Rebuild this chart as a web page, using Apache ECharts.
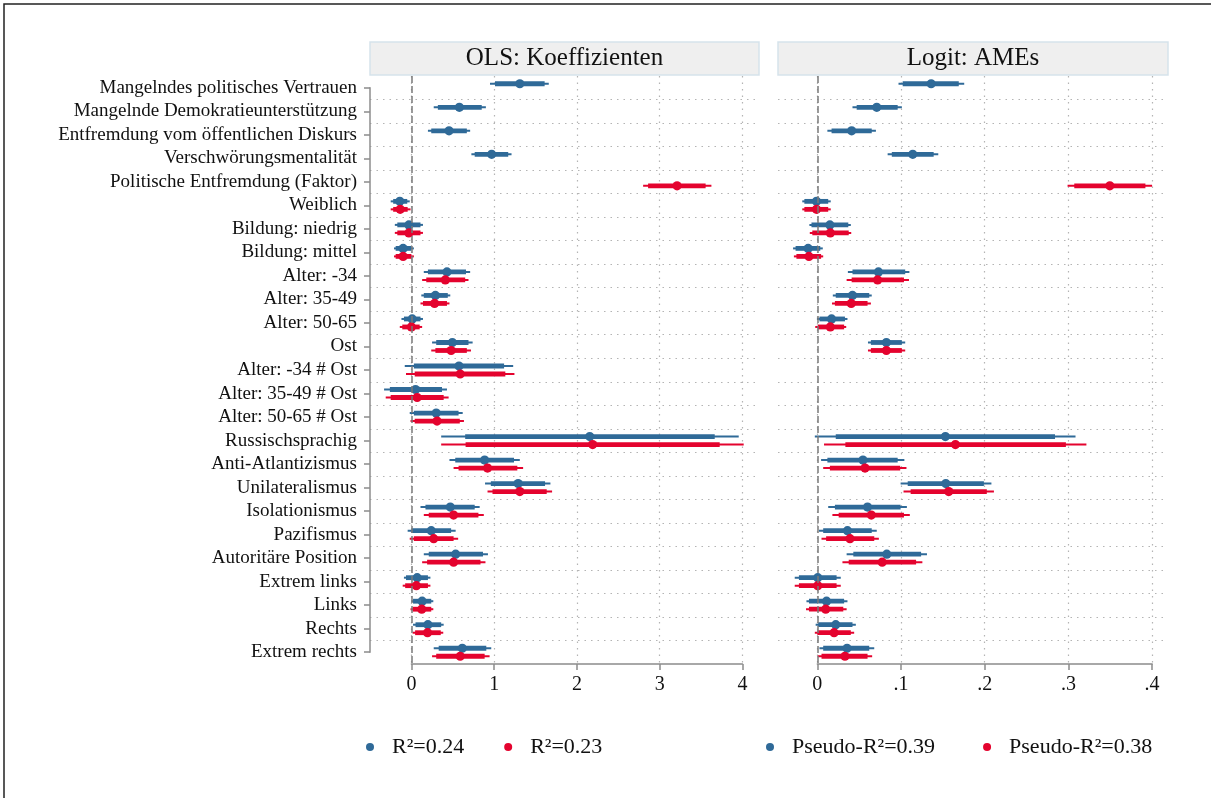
<!DOCTYPE html>
<html>
<head>
<meta charset="utf-8">
<script src="https://cdn.jsdelivr.net/npm/echarts@6/dist/echarts.min.js"></script>
<style>
html,body{margin:0;padding:0;background:#fff;}
#chart{width:1211px;height:798px;}
</style>
</head>
<body>
<div id="chart"></div>
<script>
const categories = ['Mangelndes politisches Vertrauen','Mangelnde Demokratieunterstützung','Entfremdung vom öffentlichen Diskurs','Verschwörungsmentalität','Politische Entfremdung (Faktor)','Weiblich','Bildung: niedrig','Bildung: mittel','Alter: -34','Alter: 35-49','Alter: 50-65','Ost','Alter: -34 # Ost','Alter: 35-49 # Ost','Alter: 50-65 # Ost','Russischsprachig','Anti-Atlantizismus','Unilateralismus','Isolationismus','Pazifismus','Autoritäre Position','Extrem links','Links','Rechts','Extrem rechts'];

const panelTitles = ['OLS: Koeffizienten', 'Logit: AMEs'];
const seriesNames = ['R²=0.24', 'R²=0.23', 'Pseudo-R²=0.39', 'Pseudo-R²=0.38'];
const olsTicks = [0, 1, 2, 3, 4];
const logitTickLabels = ['0', '.1', '.2', '.3', '.4'];

// each row: [lo95, lo90, estimate, hi90, hi95]
const olsModel1 = [
  [0.95,1.01,1.31,1.61,1.66],[0.27,0.32,0.58,0.85,0.90],[0.20,0.24,0.455,0.67,0.71],[0.725,0.765,0.97,1.17,1.21],null,
  [-0.25,-0.22,-0.14,-0.05,-0.02],[-0.20,-0.17,-0.03,0.11,0.14],[-0.21,-0.19,-0.10,0.00,0.03],
  [0.15,0.20,0.43,0.66,0.71],[0.12,0.15,0.29,0.44,0.47],[-0.12,-0.09,0.01,0.11,0.14],[0.25,0.30,0.495,0.69,0.74],
  [-0.08,0.03,0.575,1.12,1.23],[-0.33,-0.26,0.05,0.37,0.43],[-0.02,0.03,0.30,0.57,0.62],
  [0.36,0.65,2.155,3.665,3.955],[0.46,0.53,0.885,1.24,1.31],[0.89,0.96,1.29,1.615,1.68],[0.11,0.17,0.47,0.765,0.825],
  [-0.045,0.00,0.24,0.48,0.535],[0.15,0.21,0.535,0.865,0.925],[-0.09,-0.065,0.07,0.20,0.23],[0.00,0.02,0.13,0.24,0.265],
  [0.02,0.05,0.20,0.36,0.39],[0.27,0.33,0.615,0.905,0.965]
];
const olsModel2 = [
  null,null,null,null,[2.80,2.86,3.21,3.555,3.625],
  [-0.25,-0.22,-0.135,-0.045,-0.01],[-0.20,-0.17,-0.03,0.11,0.14],[-0.21,-0.19,-0.10,0.00,0.03],
  [0.13,0.18,0.41,0.65,0.69],[0.11,0.14,0.28,0.43,0.46],[-0.14,-0.11,0.00,0.10,0.13],[0.24,0.29,0.48,0.67,0.72],
  [-0.065,0.04,0.59,1.135,1.245],[-0.31,-0.25,0.07,0.39,0.45],[-0.01,0.04,0.31,0.585,0.635],
  [0.36,0.655,2.19,3.725,4.015],[0.51,0.57,0.92,1.28,1.35],[0.92,0.98,1.31,1.635,1.70],[0.15,0.21,0.51,0.81,0.875],
  [-0.02,0.03,0.27,0.51,0.565],[0.13,0.19,0.51,0.835,0.895],[-0.105,-0.075,0.06,0.20,0.23],[-0.01,0.015,0.125,0.24,0.265],
  [0.015,0.045,0.195,0.355,0.385],[0.25,0.30,0.59,0.885,0.945]
];
const logitModel1 = [
  [0.097,0.102,0.136,0.169,0.1755],[0.042,0.047,0.071,0.096,0.101],[0.012,0.017,0.041,0.065,0.070],[0.084,0.089,0.114,0.139,0.1445],null,
  [-0.018,-0.0155,-0.001,0.013,0.016],[-0.0095,-0.007,0.015,0.037,0.040],[-0.029,-0.026,-0.011,0.0035,0.0065],
  [0.0365,0.042,0.073,0.105,0.110],[0.0185,0.022,0.042,0.062,0.065],[-0.0005,0.0025,0.017,0.033,0.036],[0.0605,0.064,0.0825,0.101,0.105],
  null,null,null,
  [-0.003,0.022,0.153,0.284,0.3085],[0.0045,0.012,0.0545,0.096,0.104],[0.0995,0.108,0.1535,0.199,0.208],[0.013,0.021,0.060,0.0995,0.107],
  [0.002,0.007,0.036,0.065,0.071],[0.035,0.043,0.083,0.124,0.131],[-0.027,-0.022,0.0005,0.023,0.028],[-0.013,-0.010,0.011,0.032,0.036],
  [-0.002,0.001,0.022,0.042,0.046],[0.0025,0.007,0.0355,0.062,0.068]
];
const logitModel2 = [
  null,null,null,null,[0.299,0.307,0.3495,0.392,0.400],
  [-0.018,-0.0155,-0.001,0.013,0.016],[-0.009,-0.006,0.0155,0.0375,0.0405],[-0.028,-0.025,-0.010,0.0045,0.007],
  [0.035,0.041,0.072,0.1035,0.1095],[0.0175,0.021,0.0405,0.060,0.064],[-0.0025,0.0005,0.0155,0.032,0.0345],[0.0605,0.064,0.0825,0.101,0.105],
  null,null,null,
  [0.008,0.0335,0.165,0.297,0.3215],[0.007,0.015,0.057,0.099,0.1065],[0.103,0.1115,0.157,0.2025,0.211],[0.018,0.0255,0.0645,0.1035,0.1105],
  [0.005,0.0105,0.039,0.068,0.0735],[0.030,0.0375,0.0775,0.118,0.1255],[-0.027,-0.022,0.0005,0.023,0.028],[-0.0135,-0.010,0.010,0.031,0.035],
  [-0.003,0.000,0.020,0.040,0.044],[0.0005,0.005,0.033,0.060,0.0655]
];

// ---------- layout / style ----------
const BLUE = '#2f6a98', RED = '#e4032e';
const FONT = '"Liberation Serif", "Times New Roman", serif';
const TOP = 76, H = 588, BAND = H / categories.length;
const P1 = {left: 370, width: 389, min: -0.5, max: 4.2, tmin: 0, tmax: 4};
const P2 = {left: 778, width: 390, min: -0.047, max: 0.419, tmin: 0, tmax: 0.4};
function px(p, v){ return p.left + (v - p.min) / (p.max - p.min) * p.width; }

function toData(rows){
  const out = [];
  rows.forEach((r, i) => { if (r) out.push([i, r[0], r[1], r[2], r[3], r[4]]); });
  return out;
}
function makeRender(off){
  return function(params, api){
    const cat = api.value(0);
    const y = api.coord([0, cat])[1] + off;
    const X = v => api.coord([v, cat])[0];
    const c = api.visual('color');
    return {type:'group', children:[
      {type:'line', shape:{x1:X(api.value(1)), y1:y, x2:X(api.value(5)), y2:y}, style:{stroke:c, lineWidth:2}},
      {type:'line', shape:{x1:X(api.value(2)), y1:y, x2:X(api.value(4)), y2:y}, style:{stroke:c, lineWidth:4.8}},
      {type:'circle', shape:{cx:X(api.value(3)), cy:y, r:4.6}, style:{fill:c}}
    ]};
  };
}
const zeroLine = {silent:true, symbol:'none', label:{show:false}, animation:false,
  lineStyle:{color:'#7a7a7a', type:[7,3], width:1.5}, data:[{xAxis:0}]};

const dotted = {show:true, interval:0, showMinLine:false, showMaxLine:false,
  lineStyle:{color:'#b4b4b4', type:[1.5,5], width:1.2}};

function mainY(gi){
  return {gridIndex:gi, type:'category', data:categories, inverse:true, boundaryGap:true,
    axisLine:{show:false}, axisTick:{show:false, interval:0}, axisLabel:{show:false, interval:0}, splitLine:dotted};
}
function tickX(gi, p, fmt){
  return {gridIndex:gi, type:'value', min:p.tmin, max:p.tmax, interval:(p.tmax-p.tmin)/4,
    axisLine:{show:true, lineStyle:{color:'#8c8c8c', width:1.5}},
    axisTick:{show:true, length:6, lineStyle:{color:'#8c8c8c', width:1.5}},
    axisLabel:{show:true, fontFamily:FONT, fontSize:20, color:'#111', margin:11, formatter:fmt},
    splitLine:{show:true, lineStyle:{color:'#b4b4b4', type:[1.5,5], width:1.2}}};
}

const grids = [
  {left:P1.left, top:TOP, width:P1.width, height:H},
  {left:px(P1,P1.tmin), top:TOP, width:px(P1,P1.tmax)-px(P1,P1.tmin), height:H},
  {left:P1.left, top:TOP + BAND/2, width:2, height:H - BAND},
  {left:P2.left, top:TOP, width:P2.width, height:H},
  {left:px(P2,P2.tmin), top:TOP, width:px(P2,P2.tmax)-px(P2,P2.tmin), height:H}
];

const option = {
  animation:false,
  backgroundColor:'#fff',
  grid: grids,
  xAxis: [
    {gridIndex:0, type:'value', min:P1.min, max:P1.max, show:false},
    tickX(1, P1, v => String(Math.round(v))),
    {gridIndex:2, type:'value', show:false},
    {gridIndex:3, type:'value', min:P2.min, max:P2.max, show:false},
    tickX(4, P2, v => logitTickLabels[Math.round(v*10)])
  ],
  yAxis: [
    mainY(0),
    {gridIndex:1, type:'value', show:false},
    {gridIndex:2, type:'category', data:categories, inverse:true, boundaryGap:false,
      axisLine:{show:true, lineStyle:{color:'#8c8c8c', width:1.5}},
      axisTick:{show:true, length:6, interval:0, lineStyle:{color:'#8c8c8c', width:1.5}},
      axisLabel:{show:true, interval:0, fontFamily:FONT, fontSize:19, color:'#111', margin:13},
      splitLine:{show:false}},
    mainY(3),
    {gridIndex:4, type:'value', show:false}
  ],
  legend: [
    {data:[seriesNames[0], seriesNames[1]], left:361, top:731, icon:'circle', itemWidth:34, itemHeight:8, itemGap:40,
      textStyle:{fontFamily:FONT, fontSize:22, color:'#111'}},
    {data:[seriesNames[2], seriesNames[3]], left:761, top:731, icon:'circle', itemWidth:34, itemHeight:8, itemGap:48,
      textStyle:{fontFamily:FONT, fontSize:22, color:'#111'}}
  ],
  graphic: [
    {type:'rect', shape:{x:4, y:4, width:1240, height:830}, style:{fill:'none', stroke:'#222', lineWidth:1.5}, z:100},
    {type:'rect', shape:{x:P1.left, y:42, width:P1.width, height:33}, style:{fill:'#efefef', stroke:'#d6e3eb', lineWidth:1.5}},
    {type:'text', x:P1.left + P1.width/2, y:58.5, style:{text:panelTitles[0], fontFamily:FONT, fontSize:25, fill:'#111', align:'center', verticalAlign:'middle'}},
    {type:'rect', shape:{x:P2.left, y:42, width:P2.width, height:33}, style:{fill:'#efefef', stroke:'#d6e3eb', lineWidth:1.5}},
    {type:'text', x:P2.left + P2.width/2, y:58.5, style:{text:panelTitles[1], fontFamily:FONT, fontSize:25, fill:'#111', align:'center', verticalAlign:'middle'}}
  ],
  series: [
    {name:seriesNames[0], type:'custom', xAxisIndex:0, yAxisIndex:0, itemStyle:{color:BLUE},
      renderItem:makeRender(-4), encode:{x:[1,2,3,4,5], y:0}, data:toData(olsModel1), markLine:zeroLine, z:3},
    {name:seriesNames[1], type:'custom', xAxisIndex:0, yAxisIndex:0, itemStyle:{color:RED},
      renderItem:makeRender(4), encode:{x:[1,2,3,4,5], y:0}, data:toData(olsModel2), z:3},
    {name:seriesNames[2], type:'custom', xAxisIndex:3, yAxisIndex:3, itemStyle:{color:BLUE},
      renderItem:makeRender(-4), encode:{x:[1,2,3,4,5], y:0}, data:toData(logitModel1), markLine:zeroLine, z:3},
    {name:seriesNames[3], type:'custom', xAxisIndex:3, yAxisIndex:3, itemStyle:{color:RED},
      renderItem:makeRender(4), encode:{x:[1,2,3,4,5], y:0}, data:toData(logitModel2), z:3}
  ]
};
const chart = echarts.init(document.getElementById('chart'), null, {renderer:'canvas'});
chart.setOption(option);
</script>
</body>
</html>
